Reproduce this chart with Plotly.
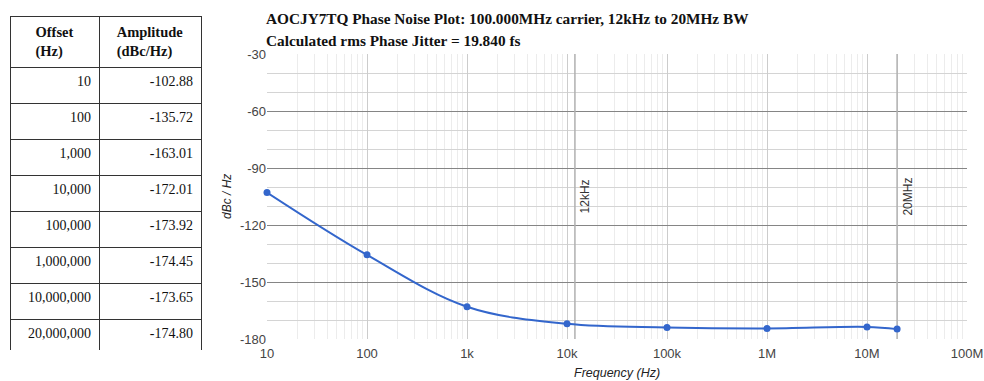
import math
import plotly.graph_objects as go

# Measured single-sideband phase noise
offset_hz = [10, 100, 1000, 10000, 100000, 1000000, 10000000, 20000000]
amplitude_dbc = [-102.88, -135.72, -163.01, -172.01, -173.92, -174.45, -173.65, -174.80]

# Integration band used for the jitter figure
band_edges_hz = [12000, 20000000]
band_labels = ["12kHz", "20MHz"]

x_tick_vals = [10, 100, 1000, 10000, 100000, 1000000, 10000000, 100000000]
x_tick_text = ["10", "100", "1k", "10k", "100k", "1M", "10M", "100M"]
y_tick_vals = [-180, -150, -120, -90, -60, -30]
y_tick_text = ["-180", "-150", "-120", "-90", "-60", "-30"]

title_lines = [
    "AOCJY7TQ Phase Noise Plot: 100.000MHz carrier, 12kHz to 20MHz BW",
    "Calculated rms Phase Jitter = 19.840 fs",
]

W, H = 984, 381
SERIF = "Liberation Serif, Times New Roman, serif"
SANS = "Arial, Liberation Sans, sans-serif"
BLUE = "#3366cc"


def px_x(p):
    return p / W


def px_y(p):
    return 1 - p / H


fig = go.Figure()

# Data table on the left
fig.add_trace(go.Table(
    domain=dict(x=[px_x(10), px_x(201)], y=[px_y(350), px_y(16)]),
    columnwidth=[89, 102],
    header=dict(
        values=["<b>Offset<br>(Hz)</b>", "<b>Amplitude<br>(dBc/Hz)</b>"],
        align="center",
        height=44,
        line=dict(color="#333333", width=1),
        fill=dict(color="white"),
        font=dict(family=SERIF, size=14.5, color="#111111"),
    ),
    cells=dict(
        values=[[f"{v:,}" for v in offset_hz], [f"{v:.2f}" for v in amplitude_dbc]],
        align="right",
        height=36,
        line=dict(color="#333333", width=1),
        fill=dict(color="white"),
        font=dict(family=SERIF, size=14, color="#111111"),
    ),
))

# Band edge markers
for edge in band_edges_hz:
    fig.add_trace(go.Scatter(
        x=[edge, edge], y=[-180, -30], mode="lines",
        line=dict(color="#b0b0b0", width=1.5),
        hoverinfo="skip", showlegend=False,
    ))

# Phase noise curve
fig.add_trace(go.Scatter(
    x=offset_hz, y=amplitude_dbc, mode="lines+markers",
    line=dict(color=BLUE, width=2, shape="spline", smoothing=1),
    marker=dict(color=BLUE, size=7),
    cliponaxis=False,
    showlegend=False,
))

minor_x = [k * 10 ** d for d in range(1, 8) for k in range(2, 10)]

fig.update_xaxes(
    type="log",
    domain=[px_x(267), px_x(967)],
    range=[1, 8],
    automargin=False,
    tickvals=x_tick_vals, ticktext=x_tick_text,
    tickfont=dict(family=SANS, size=13, color="#444444"),
    ticklabelstandoff=5,
    showgrid=True, gridcolor="#cccccc", gridwidth=1,
    minor=dict(tickvals=minor_x, showgrid=True, gridcolor="#ececec", gridwidth=1, ticklen=0),
    zeroline=False, showline=False, ticks="",
)
fig.update_yaxes(
    domain=[px_y(339), px_y(54)],
    range=[-180, -30],
    automargin=False,
    tickvals=y_tick_vals, ticktext=y_tick_text,
    tickfont=dict(family=SANS, size=13, color="#444444"),
    showgrid=True, gridcolor="#858585", gridwidth=1,
    minor=dict(dtick=10, showgrid=True, gridcolor="#d4d4d4", gridwidth=1, ticklen=0),
    zeroline=False, showline=False, ticks="",
)

annotations = []
for edge, label in zip(band_edges_hz, band_labels):
    annotations.append(dict(
        x=math.log10(edge), y=-105, xref="x", yref="y",
        text=label, textangle=-90, showarrow=False,
        xanchor="left", yanchor="middle", xshift=1,
        font=dict(family=SANS, size=12, color="#333333"),
    ))

for i, line in enumerate(title_lines):
    annotations.append(dict(
        x=px_x(264), y=px_y(8 + 22 * i), xref="paper", yref="paper",
        text=f"<b>{line}</b>", showarrow=False,
        xanchor="left", yanchor="top",
        font=dict(family=SERIF, size=15.3, color="#111111"),
    ))

annotations.append(dict(
    x=px_x(227), y=px_y(197), xref="paper", yref="paper",
    text="<i>dBc / Hz</i>", textangle=-90, showarrow=False,
    xanchor="center", yanchor="middle",
    font=dict(family=SANS, size=12, color="#222222"),
))
annotations.append(dict(
    x=px_x(617), y=px_y(373), xref="paper", yref="paper",
    text="<i>Frequency (Hz)</i>", showarrow=False,
    xanchor="center", yanchor="middle",
    font=dict(family=SANS, size=12.5, color="#222222"),
))

fig.update_layout(
    width=W, height=H,
    margin=dict(l=0, r=0, t=0, b=0, autoexpand=False),
    paper_bgcolor="white", plot_bgcolor="white",
    showlegend=False,
    annotations=annotations,
)

fig.write_html("out.html")
